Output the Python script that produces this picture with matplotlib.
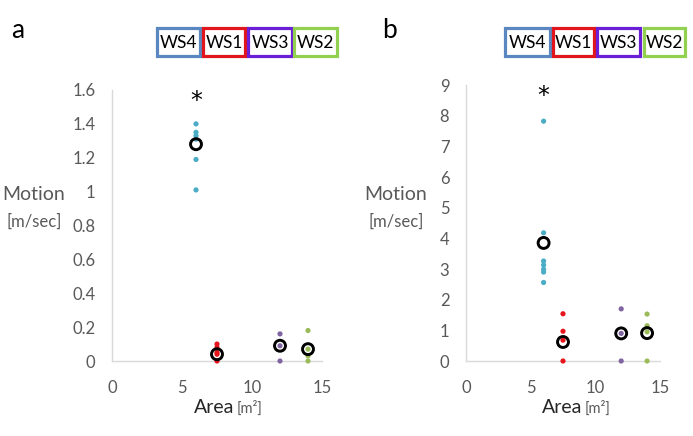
import matplotlib
matplotlib.use("Agg")
import matplotlib.pyplot as plt
from matplotlib.patches import Rectangle

plt.rcParams['font.family'] = ['Lato', 'DejaVu Sans']

W, H = 693, 436
GRAY = '#595959'
AX = '#d9d9d9'

groups = ['WS4', 'WS1', 'WS3', 'WS2']
areas = [6, 7.5, 12, 14]
colors = ['#4bacc6', '#e8141c', '#8064a2', '#9bbb59']
box_colors = ['#5b87c0', '#e0161c', '#6a1fd6', '#92d050']

# Panel a: individual values and means
a_points = [
    [1.40, 1.35, 1.33, 1.31, 1.19, 1.01],
    [0.10, 0.08, 0.05, 0.04, 0.0],
    [0.16, 0.09, 0.0],
    [0.18, 0.07, 0.03, 0.0],
]
a_means = [1.28, 0.04, 0.09, 0.07]

# Panel b
b_points = [
    [7.82, 4.18, 3.26, 3.13, 2.99, 2.90, 2.56],
    [1.54, 0.97, 0.68, 0.0],
    [1.70, 0.90, 0.0],
    [1.53, 1.15, 0.95, 0.0],
]
b_means = [3.85, 0.62, 0.90, 0.91]

a_yticks = [0, 0.2, 0.4, 0.6, 0.8, 1, 1.2, 1.4, 1.6]
a_yticklabels = ['0', '0.2', '0.4', '0.6', '0.8', '1', '1.2', '1.4', '1.6']
b_yticks = list(range(0, 10))
xticks = [0, 5, 10, 15]

fig = plt.figure(figsize=(W / 100, H / 100), dpi=100)


def fx(px):
    return px / W


def fy(py):
    return 1 - py / H


def make_axes(x0, x1, ytop, ybot):
    return fig.add_axes([fx(x0), fy(ybot), fx(x1) - fx(x0), fy(ytop) - fy(ybot)])


def style(ax, ylim, yticks, yticklabels):
    ax.set_xlim(0, 15)
    ax.set_ylim(*ylim)
    ax.set_xticks(xticks)
    ax.set_xticklabels([str(t) for t in xticks])
    ax.set_yticks(yticks)
    ax.set_yticklabels(yticklabels)
    for s in ['top', 'right']:
        ax.spines[s].set_visible(False)
    for s in ['left', 'bottom']:
        ax.spines[s].set_color(AX)
        ax.spines[s].set_linewidth(1.0)
    ax.tick_params(axis='both', length=0, colors=GRAY, labelsize=12)
    ax.tick_params(axis='x', pad=14)
    ax.tick_params(axis='y', pad=12)
    ax.patch.set_alpha(0)


def plot_panel(ax, points, means, star_y):
    for x, pts, c in zip(areas, points, colors):
        ax.scatter([x] * len(pts), pts, s=14, color=c, edgecolors='none',
                   zorder=3, clip_on=False)
    ax.scatter(areas, means, s=62, facecolors='none', edgecolors='black',
               linewidths=2.1, zorder=4, clip_on=False)
    ax.text(areas[0], star_y, '*', ha='center', va='center', fontsize=17,
            color='black', family='DejaVu Sans')


ax_a = make_axes(112, 322, 90, 361)
style(ax_a, (0, 1.6), a_yticks, a_yticklabels)
plot_panel(ax_a, a_points, a_means, 1.535)

ax_b = make_axes(466, 660, 85, 361)
style(ax_b, (0, 9), b_yticks, [str(t) for t in b_yticks])
plot_panel(ax_b, b_points, b_means, 8.65)

# panel letters
fig.text(fx(18), fy(31), 'a', fontsize=19, color='black', ha='center', va='center')
fig.text(fx(390), fy(31), 'b', fontsize=19, color='black', ha='center', va='center')

# y labels
for cx in (34, 396):
    fig.text(fx(cx), fy(194), 'Motion', fontsize=14, color=GRAY, ha='center', va='center')
    fig.text(fx(cx), fy(222), '[m/sec]', fontsize=12, color=GRAY, ha='center', va='center')

# x labels
for x_area, x_unit in ((214, 250), (562, 598)):
    fig.text(fx(x_area), fy(407), 'Area', fontsize=14, color='#262626', ha='center', va='center')
    fig.text(fx(x_unit), fy(408), '[m²]', fontsize=10.5, color=GRAY, ha='center', va='center')

# legend boxes
boxes_a = [(157, 200), (203, 245), (248, 292), (294, 337)]
boxes_b = [(505, 550), (553, 594), (597, 640), (644, 685)]
for boxes in (boxes_a, boxes_b):
    for (x0, x1), name, ec in zip(boxes, groups, box_colors):
        rect = Rectangle((fx(x0), fy(56)), fx(x1) - fx(x0), fy(28) - fy(56),
                         transform=fig.transFigure, facecolor='white',
                         edgecolor=ec, linewidth=2.3)
        fig.patches.append(rect)
        fig.text(fx((x0 + x1) / 2), fy(42.5), name, fontsize=12.5, color='black',
                 ha='center', va='center')

fig.savefig('out.png', dpi=100)
